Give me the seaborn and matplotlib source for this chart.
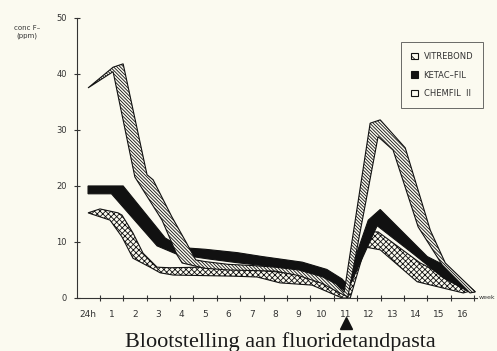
import matplotlib
matplotlib.use('Agg')
import matplotlib.pyplot as plt
import seaborn as sns
from matplotlib.patches import Patch

# x positions: 0 = 24h, 1..16 = weeks
week_labels = ['24h'] + [str(i) for i in range(1, 17)]

# VITREBOND band (upper and lower edge)
vitre_top_x = [0.0, 1.07, 1.5, 2.52, 2.78, 3.58, 4.21, 4.6, 5.0, 6.0, 7.0, 8.0, 9.0, 10.0, 10.6, 10.94,
               12.05, 12.48, 13.55, 14.62, 15.26, 16.54]
vitre_top_y = [37.5, 41.2, 41.8, 22.0, 21.1, 14.5, 9.8, 6.8, 6.5, 6.0, 5.8, 5.5, 5.0, 3.8, 2.5, 1.0,
               31.2, 31.8, 26.8, 12.1, 6.25, 1.1]
vitre_bot_x = [0.0, 1.07, 2.0, 3.16, 3.8, 4.02, 5.0, 6.0, 7.0, 8.0, 9.0, 10.0, 10.7, 11.1,
               12.39, 13.03, 14.1, 15.13, 16.32]
vitre_bot_y = [37.5, 40.4, 21.6, 13.9, 7.7, 6.25, 5.3, 5.0, 4.9, 4.8, 4.0, 2.6, 1.0, 0.2,
               28.8, 26.4, 12.7, 5.9, 0.9]

# KETAC-FIL band
ketac_top_x = [0.0, 1.5, 3.3, 4.0, 5.0, 6.37, 7.44, 9.15, 10.2, 10.85, 11.03,
               11.97, 12.48, 14.49, 15.34, 16.54]
ketac_top_y = [20.0, 20.0, 10.7, 9.0, 8.7, 8.1, 7.4, 6.4, 5.1, 3.4, 2.6,
               13.9, 15.8, 7.4, 5.6, 1.1]
ketac_bot_x = [0.0, 1.0, 2.95, 3.8, 5.09, 6.37, 7.44, 9.15, 10.34, 11.07,
               12.35, 13.89, 15.17, 16.32]
ketac_bot_y = [18.6, 18.6, 9.3, 7.8, 7.0, 6.3, 5.8, 4.5, 2.6, 1.2,
               12.9, 7.9, 3.6, 1.0]

# CHEMFIL II band
chem_top_x = [0.0, 0.51, 1.28, 1.45, 1.92, 2.35, 2.95, 3.5, 4.79, 6.2, 7.22, 8.2, 9.06, 9.91, 10.9,
              12.18, 12.39, 14.19, 16.45]
chem_top_y = [15.2, 15.9, 15.2, 14.8, 11.6, 8.0, 5.5, 5.4, 5.5, 5.4, 5.0, 4.6, 4.3, 3.2, 1.0,
              11.8, 11.8, 6.25, 1.4]
chem_bot_x = [0.0, 0.94, 1.45, 1.92, 2.65, 3.08, 3.63, 6.2, 7.22, 8.2, 9.57, 10.85, 11.2,
              11.84, 12.48, 14.06, 16.03]
chem_bot_y = [15.2, 13.9, 10.9, 7.1, 5.5, 4.5, 4.1, 3.9, 3.75, 2.7, 2.3, 0.0, 0.0,
              9.1, 8.6, 2.9, 0.9]

bg = '#fbfaf0'

sns.set_style('ticks')
plt.rcParams['font.family'] = ['DejaVu Sans']
plt.rcParams['hatch.linewidth'] = 0.6

fig = plt.figure(figsize=(4.97, 3.51), dpi=100)
fig.patch.set_facecolor(bg)
ax = fig.add_axes([0.155, 0.151, 0.805, 0.798])
ax.set_facecolor(bg)


def band(top_x, top_y, bot_x, bot_y, **kw):
    xs = list(top_x) + list(bot_x)[::-1]
    ys = list(top_y) + list(bot_y)[::-1]
    ax.fill(xs, ys, **kw)


band(chem_top_x, chem_top_y, chem_bot_x, chem_bot_y,
     facecolor=bg, edgecolor='#111111', hatch='x' * 6, linewidth=0.8, zorder=2)
band(ketac_top_x, ketac_top_y, ketac_bot_x, ketac_bot_y,
     facecolor='#111111', edgecolor='#111111', linewidth=0.8, zorder=3)
band(vitre_top_x, vitre_top_y, vitre_bot_x, vitre_bot_y,
     facecolor=bg, edgecolor='#111111', hatch='\\' * 10, linewidth=0.8, zorder=4)

ax.set_xlim(-0.47, 16.62)
ax.set_ylim(0, 50)
ax.set_xticks(range(len(week_labels)))
ax.set_xticklabels(week_labels)
ax.set_xticks([i + 0.5 for i in range(17)], minor=True)
ax.tick_params(axis='x', which='major', length=0, pad=9, labelsize=6.5, labelcolor='#333333')
ax.tick_params(axis='x', which='minor', length=4, width=0.8, direction='inout', color='#333333')
ax.set_yticks([0, 10, 20, 30, 40, 50])
ax.tick_params(axis='y', length=4.5, width=0.8, direction='inout', pad=5, labelsize=6,
               labelcolor='#333333', color='#333333')
sns.despine(ax=ax)
for s in ['left', 'bottom']:
    ax.spines[s].set_color('#333333')
    ax.spines[s].set_linewidth(0.8)

# exposure marker under week 11
ax.plot([11], [-4.5], marker='^', markersize=8, color='#111111', clip_on=False, linestyle='none')
ax.text(16.7, 0, 'week', fontsize=4.5, color='#333333', va='center', ha='left', clip_on=False)

fig.text(27 / 497, 1 - 32 / 351, 'conc F\u2013\n(ppm)', fontsize=5, color='#333333',
         ha='center', va='center', multialignment='center')

handles = [
    Patch(facecolor=bg, edgecolor='#111111', hatch='\\' * 3, linewidth=0.8, label='VITREBOND'),
    Patch(facecolor='#111111', edgecolor='#111111', linewidth=0.8, label='KETAC\u2013FIL'),
    Patch(facecolor=bg, edgecolor='#111111', linewidth=0.8, label='CHEMFIL  II'),
]
leg = ax.legend(handles=handles, loc='upper left', bbox_to_anchor=(0.81, 0.914),
                fontsize=6, frameon=True, fancybox=False, borderpad=1.2,
                handlelength=0.8, handleheight=0.8, handletextpad=0.7, labelspacing=1.15,
                borderaxespad=0)
leg.get_frame().set_edgecolor('#444444')
leg.get_frame().set_linewidth(0.7)
leg.get_frame().set_facecolor(bg)
for t in leg.get_texts():
    t.set_color('#333333')

fig.text(0.564, 0.012, 'Blootstelling aan fluoridetandpasta', fontsize=16,
         family=['Liberation Serif', 'DejaVu Serif'], ha='center', va='baseline', color='#1a1a1a')

fig.savefig('out.png', dpi=100, facecolor=bg)
